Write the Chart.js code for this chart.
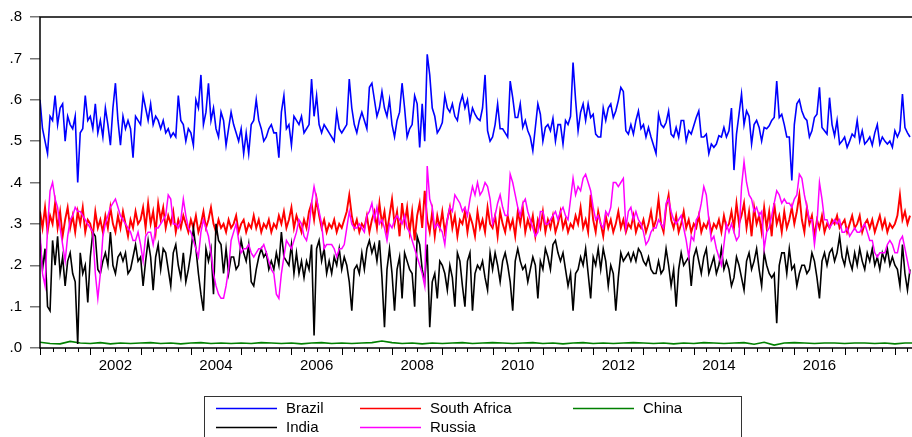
<!DOCTYPE html>
<html>
<head>
<meta charset="utf-8">
<script src="https://cdn.jsdelivr.net/npm/chart.js@4.4.0/dist/chart.umd.min.js"></script>
<style>
  html, body { margin: 0; padding: 0; background: #fff; }
  canvas { display: block; }
</style>
</head>
<body>
<canvas id="myChart" width="912" height="437"></canvas>
<script>
// time index: one reading every 1/20 of a year from 2001
const startYear = 2001;
const endYear = 2018.34;
const step = 0.05;
const chinaStep = 0.2;
const yearLabels = [2002, 2004, 2006, 2008, 2010, 2012, 2014, 2016];

const brazil = [
  .60,.53,.50,.47,.56,.55,.61,.54,.58,.59, .50,.56,.54,.53,.56,.40,.52,.53,.61,.55,
  .56,.53,.59,.52,.55,.51,.58,.54,.49,.58, .64,.55,.49,.56,.53,.55,.53,.46,.56,.55,
  .54,.61,.58,.55,.59,.54,.56,.55,.53,.55, .52,.53,.51,.52,.51,.61,.55,.54,.50,.53,
  .52,.49,.60,.58,.66,.54,.57,.64,.55,.58, .53,.51,.57,.55,.49,.53,.57,.54,.52,.50,
  .53,.47,.52,.47,.54,.55,.60,.55,.53,.50, .51,.53,.54,.52,.52,.46,.57,.61,.53,.54,
  .49,.56,.55,.54,.56,.52,.53,.54,.65,.56, .61,.54,.52,.54,.53,.52,.51,.50,.57,.53,
  .52,.53,.54,.65,.58,.54,.52,.55,.57,.55, .53,.63,.64,.60,.56,.58,.62,.58,.56,.60,
  .54,.51,.55,.57,.64,.58,.51,.53,.54,.61, .59,.485,.59,.50,.71,.66,.58,.56,.52,.53,
  .545,.61,.58,.57,.59,.56,.55,.59,.61,.58, .60,.55,.58,.565,.555,.55,.58,.66,.525,.50,
  .51,.54,.59,.53,.53,.52,.51,.645,.605,.557, .557,.59,.533,.55,.525,.51,.477,.533,.59,.565,
  .50,.533,.54,.525,.555,.50,.54,.54,.493,.55, .54,.56,.69,.60,.525,.57,.59,.55,.59,.557,
  .565,.517,.51,.51,.58,.55,.58,.59,.557,.573, .598,.63,.62,.525,.517,.54,.517,.55,.573,.53,
  .54,.51,.533,.51,.49,.47,.565,.54,.533,.545, .573,.517,.51,.533,.51,.55,.55,.50,.525,.517,
  .537,.557,.573,.51,.51,.517,.47,.493,.485,.493, .513,.51,.533,.51,.525,.58,.43,.517,.565,.614,
  .54,.573,.56,.493,.54,.55,.533,.50,.533,.53, .537,.55,.557,.645,.557,.565,.54,.51,.51,.405,
  .54,.59,.60,.573,.557,.55,.51,.525,.557,.565, .63,.533,.525,.517,.605,.54,.513,.55,.493,.50,
  .51,.485,.50,.517,.51,.55,.50,.525,.493,.50, .51,.49,.52,.54,.493,.51,.50,.493,.50,.485,
  .525,.51,.525,.614,.533,.52,.51
];

const southAfrica = [
  .33,.29,.34,.28,.32,.30,.35,.29,.33,.27, .31,.34,.29,.32,.28,.33,.30,.34,.28,.31,
  .30,.27,.33,.29,.31,.28,.32,.29,.34,.30, .28,.32,.29,.33,.30,.27,.31,.29,.33,.30,
  .31,.34,.29,.35,.30,.33,.28,.35,.31,.34, .29,.32,.30,.33,.28,.31,.29,.32,.30,.28,
  .31,.29,.32,.28,.30,.33,.29,.31,.34,.30, .28,.31,.29,.30,.28,.31,.29,.30,.32,.28,
  .30,.31,.28,.30,.29,.32,.29,.31,.28,.30, .29,.31,.28,.30,.29,.32,.30,.33,.29,.31,
  .34,.29,.32,.30,.28,.31,.29,.33,.35,.31, .36,.32,.29,.31,.28,.30,.29,.31,.28,.30,
  .29,.31,.33,.37,.32,.29,.31,.28,.30,.29, .32,.28,.31,.33,.29,.35,.30,.33,.28,.32,
  .36,.30,.33,.27,.35,.30,.34,.28,.33,.26, .32,.35,.29,.38,.31,.28,.33,.27,.32,.29,
  .33,.28,.31,.34,.29,.32,.27,.31,.30,.33, .28,.32,.30,.27,.33,.29,.31,.28,.34,.30,
  .29,.32,.27,.33,.30,.28,.32,.29,.31,.27, .33,.30,.34,.28,.31,.29,.32,.27,.31,.29,
  .33,.28,.31,.29,.32,.28,.30,.33,.29,.31, .28,.30,.29,.32,.30,.34,.29,.31,.28,.37,
  .31,.28,.33,.30,.27,.32,.29,.31,.28,.30, .33,.29,.31,.28,.30,.29,.32,.28,.30,.29,
  .31,.28,.30,.33,.29,.31,.36,.30,.28,.34, .37,.31,.29,.32,.28,.30,.33,.29,.31,.28,
  .30,.29,.32,.28,.30,.29,.31,.28,.30,.29, .31,.28,.32,.29,.30,.33,.29,.35,.30,.32,
  .35,.29,.33,.27,.34,.30,.32,.28,.34,.29, .33,.27,.35,.30,.32,.28,.33,.29,.31,.34,
  .30,.33,.37,.31,.28,.34,.30,.32,.27,.31, .29,.32,.28,.30,.29,.31,.30,.32,.29,.30,
  .31,.28,.30,.32,.29,.30,.32,.28,.30,.31, .29,.31,.28,.30,.32,.29,.31,.28,.30,.29,
  .30,.32,.37,.31,.33,.30,.32
];

const china = [
  .014,.011,.010,.016,.012,.011,.013,.010,.012,.011,
  .012,.013,.011,.012,.010,.012,.013,.011,.012,.011,
  .012,.011,.013,.012,.011,.012,.010,.012,.013,.011,
  .012,.011,.012,.013,.017,.013,.011,.012,.010,.012,
  .011,.012,.013,.011,.012,.013,.012,.011,.012,.013,
  .011,.012,.010,.012,.013,.011,.012,.011,.012,.013,
  .012,.011,.012,.010,.012,.011,.013,.012,.011,.012,
  .013,.009,.014,.007,.012,.013,.012,.011,.012,.012,
  .011,.012,.012,.011,.012,.010,.012,.012
];

const india = [
  .26,.19,.24,.10,.09,.26,.20,.27,.18,.22, .15,.21,.23,.18,.16,.01,.23,.18,.20,.11,
  .22,.28,.27,.19,.18,.21,.23,.20,.28,.20, .18,.22,.23,.21,.23,.18,.19,.22,.25,.21,
  .22,.15,.21,.26,.22,.14,.22,.25,.19,.24, .23,.19,.15,.23,.25,.20,.17,.23,.16,.19,
  .23,.29,.24,.18,.13,.09,.24,.21,.24,.13, .30,.26,.25,.18,.24,.18,.22,.22,.19,.20,
  .26,.23,.21,.25,.16,.15,.19,.22,.24,.22, .23,.19,.21,.19,.23,.20,.28,.22,.21,.20,
  .25,.18,.23,.18,.21,.17,.21,.19,.25,.03, .24,.26,.21,.24,.18,.21,.18,.22,.20,.24,
  .19,.22,.20,.16,.09,.19,.20,.18,.23,.19, .24,.26,.23,.25,.21,.26,.17,.05,.19,.24,
  .18,.09,.19,.22,.12,.23,.21,.19,.18,.10, .27,.25,.19,.16,.25,.05,.16,.18,.12,.21,
  .20,.18,.14,.20,.17,.10,.23,.21,.15,.10, .21,.23,.09,.18,.20,.19,.21,.17,.14,.23,
  .19,.23,.20,.16,.21,.23,.20,.16,.09,.21, .24,.21,.19,.20,.16,.19,.22,.20,.12,.21,
  .19,.24,.22,.19,.25,.26,.23,.21,.23,.19, .15,.18,.09,.18,.19,.22,.20,.24,.18,.12,
  .22,.20,.24,.19,.24,.21,.15,.20,.18,.09, .17,.23,.21,.22,.23,.21,.23,.21,.24,.23,
  .21,.20,.22,.19,.18,.18,.21,.18,.19,.24, .20,.15,.19,.10,.19,.23,.20,.21,.22,.15,
  .22,.24,.21,.18,.22,.24,.18,.20,.22,.18, .20,.24,.19,.21,.19,.15,.17,.22,.20,.17,
  .14,.21,.23,.19,.21,.24,.19,.15,.23,.20, .18,.17,.18,.06,.20,.23,.23,.18,.24,.19,
  .20,.15,.18,.20,.20,.18,.19,.23,.21,.17, .12,.21,.23,.20,.23,.24,.21,.23,.27,.22,
  .20,.24,.21,.19,.23,.20,.24,.21,.19,.23, .21,.24,.20,.22,.19,.23,.21,.24,.20,.22,
  .20,.19,.15,.25,.18,.14,.19
];

const russia = [
  .28,.18,.15,.29,.38,.40,.36,.34,.29,.25, .21,.27,.31,.32,.34,.33,.33,.32,.31,.30,
  .29,.28,.18,.12,.18,.27,.30,.32,.34,.35, .36,.34,.32,.31,.30,.29,.28,.26,.26,.28,
  .25,.21,.27,.28,.28,.25,.29,.29,.30,.31, .32,.37,.36,.30,.30,.29,.31,.36,.32,.29,
  .28,.26,.24,.22,.28,.31,.29,.27,.23,.18, .15,.13,.12,.12,.15,.19,.26,.28,.30,.26,
  .23,.24,.24,.25,.23,.22,.23,.24,.24,.25, .23,.21,.19,.18,.13,.12,.18,.22,.26,.25,
  .24,.26,.28,.31,.30,.27,.26,.29,.35,.39, .36,.33,.30,.24,.25,.25,.25,.24,.22,.24,
  .24,.25,.29,.33,.30,.29,.29,.30,.29,.28, .32,.33,.35,.31,.34,.30,.31,.29,.26,.30,
  .29,.31,.32,.31,.30,.32,.29,.28,.26,.24, .22,.20,.18,.15,.44,.36,.34,.29,.30,.29,
  .28,.25,.31,.34,.33,.37,.36,.35,.33,.34, .32,.36,.39,.37,.40,.37,.38,.40,.39,.36,
  .30,.32,.35,.37,.34,.32,.32,.42,.40,.37, .34,.32,.35,.36,.33,.31,.29,.27,.28,.33,
  .33,.30,.30,.31,.32,.33,.31,.33,.34,.32, .31,.36,.41,.37,.39,.38,.41,.42,.40,.38,
  .34,.31,.32,.30,.29,.33,.32,.34,.40,.40, .39,.40,.41,.29,.33,.34,.31,.33,.31,.30,
  .28,.25,.26,.28,.29,.29,.31,.30,.29,.35, .36,.33,.31,.30,.31,.32,.29,.26,.22,.27,
  .26,.31,.32,.35,.39,.37,.31,.26,.27,.24, .22,.20,.25,.30,.28,.30,.28,.26,.27,.39,
  .45,.40,.37,.36,.33,.34,.32,.33,.24,.28, .29,.32,.35,.38,.37,.35,.36,.35,.35,.34,
  .36,.37,.42,.41,.37,.34,.31,.31,.25,.30, .40,.36,.31,.31,.29,.30,.31,.30,.31,.28,
  .28,.29,.27,.28,.29,.28,.28,.29,.30,.28, .26,.26,.23,.22,.23,.23,.23,.25,.26,.25,
  .23,.23,.26,.27,.24,.21,.18
];

function toPoints(values, dt) {
  return values.map((v, i) => ({ x: startYear + i * dt, y: v }));
}

// frame, quarterly tick marks and boxed legend, EViews style
const framePlugin = {
  id: 'frame',
  afterDraw(chart) {
    const { ctx, chartArea: a } = chart;
    const x = chart.scales.x;
    ctx.save();
    ctx.strokeStyle = '#000';
    ctx.lineWidth = 1.5;
    ctx.beginPath();
    ctx.moveTo(a.right + 2, a.top);
    ctx.lineTo(a.left, a.top);
    ctx.lineTo(a.left, a.bottom);
    ctx.lineTo(a.right + 2, a.bottom);
    ctx.stroke();

    ctx.lineWidth = 1;
    for (let q = 0; startYear + q * 0.25 <= x.max; q++) {
      const px = Math.round(x.getPixelForValue(startYear + q * 0.25)) + 0.5;
      const len = q % 4 === 0 ? 7 : 4;
      ctx.beginPath();
      ctx.moveTo(px, a.bottom);
      ctx.lineTo(px, a.bottom + len);
      ctx.stroke();
    }

    // legend box
    ctx.strokeStyle = '#333';
    ctx.strokeRect(204.5, 396.5, 537, 60);
    const cols = [216, 360, 573];
    const rows = [408, 427];
    ctx.font = '15px "Liberation Sans", Arial, sans-serif';
    ctx.textBaseline = 'middle';
    ctx.fillStyle = '#000';
    chart.data.datasets.forEach((ds, k) => {
      const cx = cols[k % 3];
      const cy = rows[Math.floor(k / 3)];
      ctx.strokeStyle = ds.borderColor;
      ctx.lineWidth = 1.5;
      ctx.beginPath();
      ctx.moveTo(cx, cy + 0.5);
      ctx.lineTo(cx + 61, cy + 0.5);
      ctx.stroke();
      ctx.fillText(ds.label, cx + 70, cy + 1);
    });
    ctx.restore();
  }
};

Chart.defaults.font.family = '"Liberation Sans", Arial, sans-serif';
Chart.defaults.color = '#000';

const line = (label, values, color, order, dt, width) => ({
  label: label,
  data: toPoints(values, dt),
  borderColor: color,
  borderWidth: width,
  pointRadius: 0,
  tension: 0,
  fill: false,
  order: order
});

const config = {
  type: 'line',
  data: {
    datasets: [
      line('Brazil', brazil, '#0000ff', 4, step, 1.6),
      line('South Africa', southAfrica, '#ff0000', 3, step, 1.9),
      line('China', china, '#008000', 2, chinaStep, 1.6),
      line('India', india, '#000000', 1, step, 1.6),
      line('Russia', russia, '#ff00ff', 0, step, 1.5)
    ]
  },
  options: {
    responsive: false,
    animation: false,
    events: [],
    layout: { padding: { top: 16, right: 0, bottom: 0, left: 0 } },
    plugins: {
      legend: { display: false },
      tooltip: { enabled: false }
    },
    scales: {
      x: {
        type: 'linear',
        min: startYear,
        max: endYear,
        afterBuildTicks: s => { s.ticks = yearLabels.map(y => ({ value: y + 0.5 })); },
        afterFit: s => { s.height = 89; },
        ticks: {
          autoSkip: false,
          maxRotation: 0,
          padding: 9,
          font: { size: 15 },
          callback: v => String(Math.floor(v))
        },
        grid: { display: false, drawTicks: false },
        border: { display: false }
      },
      y: {
        min: 0,
        max: 0.8,
        afterFit: s => { s.width = 40; },
        ticks: {
          stepSize: 0.1,
          padding: 8,
          font: { size: 15 },
          callback: v => '.' + Math.round(v * 10)
        },
        grid: { drawOnChartArea: false, tickLength: 10, color: '#777', lineWidth: 1.5 },
        border: { display: false }
      }
    }
  },
  plugins: [framePlugin]
};

const ctx = document.getElementById('myChart').getContext('2d');
const myChart = new Chart(ctx, config);
</script>
</body>
</html>
